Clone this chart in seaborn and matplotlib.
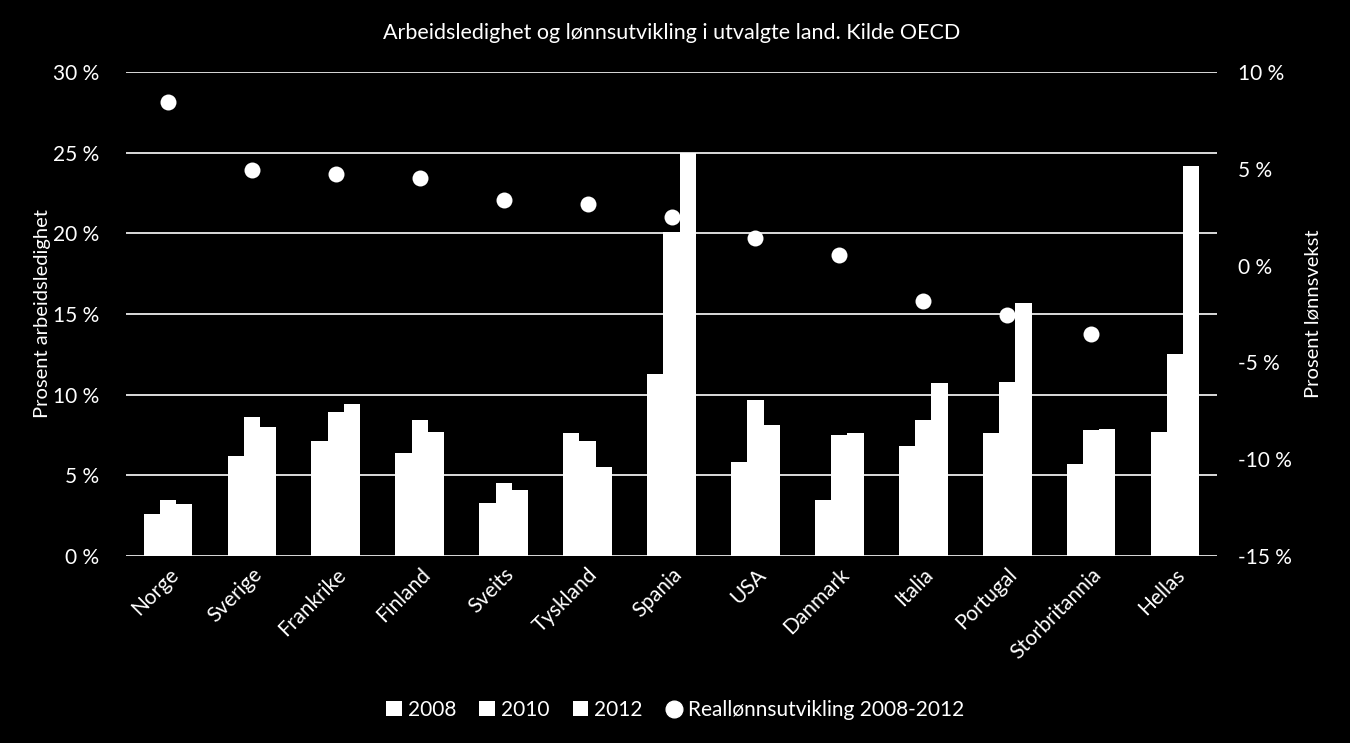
import numpy as np
import pandas as pd
import seaborn as sns
import matplotlib.pyplot as plt
from matplotlib.lines import Line2D
from matplotlib.ticker import FuncFormatter

# data
countries = ['Norge', 'Sverige', 'Frankrike', 'Finland', 'Sveits', 'Tyskland', 'Spania',
             'USA', 'Danmark', 'Italia', 'Portugal', 'Storbritannia', 'Hellas']
years = ['2008', '2010', '2012']
ledighet_2008 = [2.6, 6.2, 7.1, 6.4, 3.3, 7.6, 11.3, 5.8, 3.5, 6.8, 7.6, 5.7, 7.7]
ledighet_2010 = [3.5, 8.6, 8.9, 8.4, 4.5, 7.1, 20.1, 9.7, 7.5, 8.4, 10.8, 7.8, 12.5]
ledighet_2012 = [3.2, 8.0, 9.4, 7.7, 4.1, 5.5, 25.0, 8.1, 7.6, 10.7, 15.7, 7.9, 24.2]
reallonn = [8.45, 4.95, 4.75, 4.5, 3.4, 3.2, 2.5, 1.45, 0.55, -1.85, -2.55, -3.55, np.nan]

df = pd.DataFrame({
    'land': countries * 3,
    'aar': [y for y in years for _ in countries],
    'verdi': ledighet_2008 + ledighet_2010 + ledighet_2012,
})

sns.set_theme(style='dark')
plt.rcParams['font.family'] = ['Lato', 'DejaVu Sans']
plt.rcParams['text.color'] = 'white'

fig, ax = plt.subplots(figsize=(13.5, 7.43), dpi=100)
fig.patch.set_facecolor('black')
ax.set_facecolor('black')
fig.subplots_adjust(left=126/1350, right=1217/1350, top=1-72/743, bottom=1-556/743)

sns.barplot(data=df, x='land', y='verdi', hue='aar', palette=['white'] * 3,
            width=0.58, gap=0, saturation=1, linewidth=0, ax=ax)
handles, labels = ax.get_legend_handles_labels()
ax.get_legend().remove()

ax.set_ylim(0, 30)
ax.set_yticks(range(0, 31, 5))
ax.yaxis.set_major_formatter(FuncFormatter(lambda v, p: f'{v:.0f} %'))
ax.grid(axis='y', color='white', linewidth=1.2)
ax.grid(axis='x', visible=False)
ax.set_axisbelow(True)
for s in ax.spines.values():
    s.set_visible(False)
ax.tick_params(axis='y', colors='white', labelsize=15, length=0, pad=19)
ax.tick_params(axis='x', colors='white', labelsize=15, length=0, pad=6)
ax.set_xlim(-0.5, len(countries) - 0.5)
plt.setp(ax.get_xticklabels(), rotation=45, ha='right', rotation_mode='anchor')
ax.set_xlabel('')
ax.set_ylabel('Prosent arbeidsledighet', color='white', fontsize=14.5, labelpad=2)

ax2 = ax.twinx()
sns.stripplot(x=countries, y=reallonn, jitter=False, color='white', size=11.5,
              linewidth=0, ax=ax2, zorder=5)
ax2.set_ylim(-15, 10)
ax2.set_yticks(range(-15, 11, 5))
ax2.yaxis.set_major_formatter(FuncFormatter(lambda v, p: f'{v:.0f} %'))
ax2.grid(False)
for s in ax2.spines.values():
    s.set_visible(False)
ax2.tick_params(axis='y', colors='white', labelsize=15, length=0, pad=15)
ax2.set_xlim(-0.5, len(countries) - 0.5)
ax2.set_ylabel('Prosent lønnsvekst', color='white', fontsize=14.5, labelpad=9)

ax.set_title('Arbeidsledighet og lønnsutvikling i utvalgte land. Kilde OECD',
             color='white', fontsize=15.5, pad=24)

dot = Line2D([], [], marker='o', linestyle='none', color='white', markersize=12)
fig.legend(handles + [dot], labels + ['Reallønnsutvikling 2008-2012'],
           loc='center', bbox_to_anchor=(0.5, 1 - 710/743), ncol=4, frameon=False,
           fontsize=15, handlelength=0.75, handleheight=0.75, handletextpad=0.3,
           columnspacing=1.1, labelcolor='white')

fig.savefig('out.png', dpi=100, facecolor='black')
